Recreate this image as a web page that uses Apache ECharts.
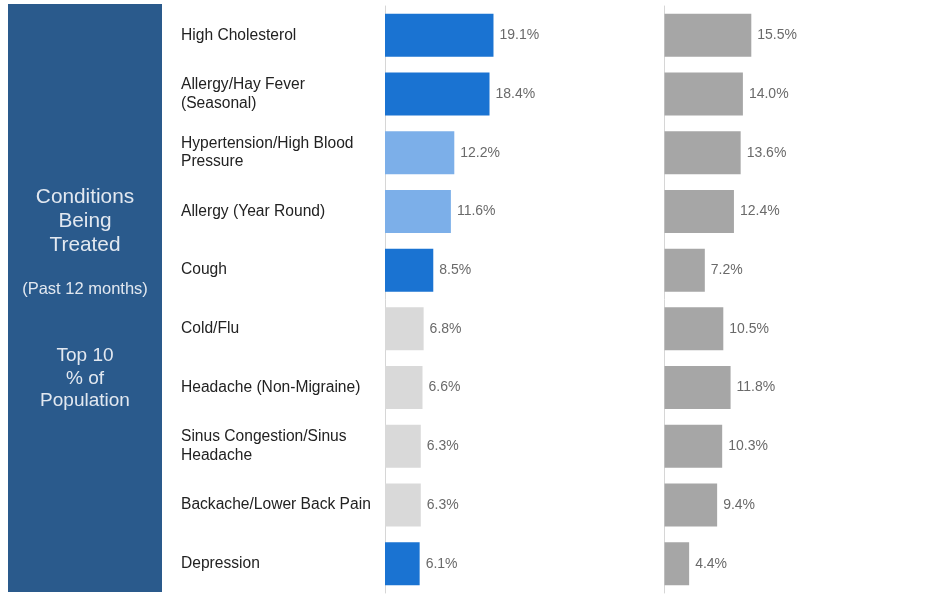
<!DOCTYPE html>
<html>
<head>
<meta charset="utf-8">
<script src="https://cdn.jsdelivr.net/npm/echarts@6/dist/echarts.min.js"></script>
<style>
html,body{margin:0;padding:0;background:#fff;}
#chart{width:932px;height:594px;}
</style>
</head>
<body>
<div id="chart"></div>
<script>
// ---- data ----
const categories = [
  'High Cholesterol',
  'Allergy/Hay Fever\n(Seasonal)',
  'Hypertension/High Blood\nPressure',
  'Allergy (Year Round)',
  'Cough',
  'Cold/Flu',
  'Headache (Non-Migraine)',
  'Sinus Congestion/Sinus\nHeadache',
  'Backache/Lower Back Pain',
  'Depression'
];
const seriesA = [19.1, 18.4, 12.2, 11.6, 8.5, 6.8, 6.6, 6.3, 6.3, 6.1];
const seriesB = [15.5, 14.0, 13.6, 12.4, 7.2, 10.5, 11.8, 10.3, 9.4, 4.4];
const sideTitle = ['Conditions', 'Being', 'Treated'];
const sideSub = '(Past 12 months)';
const sideNote = ['Top 10', '% of', 'Population'];

// ---- styles ----
const FONT = '"Liberation Sans", Arial, Helvetica, sans-serif';
const DARK = '#1a73d2', LIGHT = '#7cafe9', PALE = '#d9d9d9', GREY = '#a6a6a6';
const panelAColors = [DARK, DARK, LIGHT, LIGHT, DARK, PALE, PALE, PALE, PALE, DARK];
const PANEL = '#2a5a8c', PANEL_TEXT = '#e2e8f0';

const chart = echarts.init(document.getElementById('chart'), null, {renderer: 'canvas'});

function yAx(gridIndex, showLabels) {
  return {
    type: 'category', gridIndex, data: categories, inverse: true,
    axisLine: {show: true, lineStyle: {color: '#d6d6d6', width: 1}},
    axisTick: {show: false},
    splitLine: {show: false},
    axisLabel: showLabels ? {
      show: true, align: 'left', margin: 204,
      fontFamily: FONT, fontSize: 15.6, color: '#222', lineHeight: 18.5
    } : {show: false}
  };
}
function xAx(gridIndex) {
  return {
    type: 'value', gridIndex, min: 0, max: 40,
    show: false, splitLine: {show: false}
  };
}
const valLabel = {
  show: true, position: 'right', distance: 6,
  fontFamily: FONT, fontSize: 14, color: '#6a6a6a',
  formatter: p => p.value.toFixed(1) + '%'
};

const graphics = [
  {type: 'rect', shape: {x: 8, y: 4, width: 154, height: 588}, style: {fill: PANEL}, z: 0}
];
const titleYs = [197.5, 221.5, 245.5];
sideTitle.forEach((t, i) => graphics.push({
  type: 'text', x: 85, y: titleYs[i],
  style: {text: t, fill: PANEL_TEXT, font: '20.8px ' + FONT, align: 'center', verticalAlign: 'middle'}
}));
graphics.push({
  type: 'text', x: 85, y: 289,
  style: {text: sideSub, fill: PANEL_TEXT, font: '16.5px ' + FONT, align: 'center', verticalAlign: 'middle'}
});
const noteYs = [356, 379, 401];
sideNote.forEach((t, i) => graphics.push({
  type: 'text', x: 85, y: noteYs[i],
  style: {text: t, fill: PANEL_TEXT, font: '19px ' + FONT, align: 'center', verticalAlign: 'middle'}
}));

chart.setOption({
  animation: false,
  backgroundColor: '#fff',
  grid: [
    {left: 385, top: 6, width: 227.2, height: 587},
    {left: 664.5, top: 6, width: 224, height: 587}
  ],
  xAxis: [xAx(0), xAx(1)],
  yAxis: [yAx(0, true), yAx(1, false)],
  series: [
    {
      type: 'bar', xAxisIndex: 0, yAxisIndex: 0, barWidth: 43,
      data: seriesA.map((v, i) => ({value: v, itemStyle: {color: panelAColors[i]}})),
      label: valLabel, z: 1
    },
    {
      type: 'bar', xAxisIndex: 1, yAxisIndex: 1, barWidth: 43,
      data: seriesB, itemStyle: {color: GREY},
      label: valLabel, z: 1
    }
  ],
  graphic: graphics
});
</script>
</body>
</html>
